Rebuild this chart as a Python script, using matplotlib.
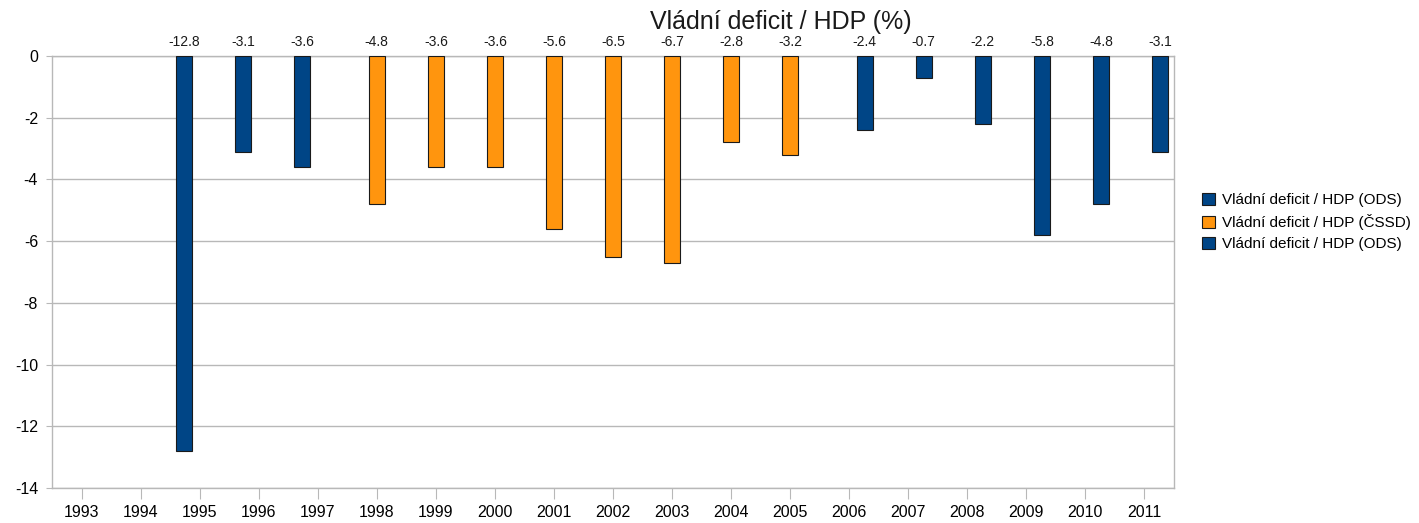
import numpy as np
import matplotlib
matplotlib.use('Agg')
import matplotlib.pyplot as plt

plt.rcParams['font.family'] = ['Liberation Sans', 'DejaVu Sans']
plt.rcParams['axes.unicode_minus'] = False

years = [str(y) for y in range(1993, 2012)]
# tři řady jako v původním grafu (NaN = bez hodnoty)
ods1 = [np.nan, np.nan, -12.8, -3.1, -3.6] + [np.nan] * 14
cssd = [np.nan] * 5 + [-4.8, -3.6, -3.6, -5.6, -6.5, -6.7, -2.8, -3.2] + [np.nan] * 6
ods2 = [np.nan] * 13 + [-2.4, -0.7, -2.2, -5.8, -4.8, -3.1]
series_names = ['Vládní deficit / HDP (ODS)', 'Vládní deficit / HDP (ČSSD)',
                'Vládní deficit / HDP (ODS)']

blue = '#004586'
orange = '#ff950e'
grid_col = '#b8b8b8'

fig = plt.figure(figsize=(14.19, 5.23), dpi=100)
ax = fig.add_axes([52 / 1419, 1 - 488 / 523, (1174 - 52) / 1419, (488 - 56) / 523])

x = np.arange(len(years))
w = 0.263
for vals, off, col, name in zip([ods1, cssd, ods2], [-w, 0, w],
                                [blue, orange, blue], series_names):
    ax.bar(x + off, vals, width=w, color=col, edgecolor='#1a1a1a',
           linewidth=0.8, label=name, zorder=3)
    # popisky hodnot nad grafem
    for xi, v in zip(x + off, vals):
        if not np.isnan(v):
            ax.annotate(f'{v:.1f}', xy=(xi, 0), xytext=(0, 7),
                        textcoords='offset pixels', ha='center', va='bottom',
                        fontsize=10, color='#1a1a1a', annotation_clip=False)

ax.set_xlim(-0.5, len(years) - 0.5)
ax.set_ylim(-14, 0)
ax.set_yticks(np.arange(-14, 1, 2))
ax.set_xticks(x)
ax.set_xticklabels(years)
ax.yaxis.grid(True, color=grid_col, linewidth=1)
ax.set_axisbelow(True)
for s in ax.spines.values():
    s.set_color(grid_col)
    s.set_linewidth(1)
ax.tick_params(axis='x', length=8, color=grid_col, labelsize=11.5, pad=4)
ax.tick_params(axis='y', length=4, color=grid_col, labelsize=11.5, pad=6)

fig.text(781 / 1419, 1 - 22 / 523, 'Vládní deficit / HDP (%)', ha='center',
         va='center', fontsize=18, color='#1a1a1a')

handles = [plt.Rectangle((0, 0), 1, 1, facecolor=c, edgecolor='#1a1a1a', linewidth=0.8)
           for c in [blue, orange, blue]]
fig.legend(handles, series_names, loc='center left',
           bbox_to_anchor=(1188 / 1419, 1 - 222 / 523), frameon=False,
           fontsize=11, handlelength=0.85, handleheight=0.85, handletextpad=0.45,
           labelspacing=0.45)

fig.savefig('out.png', dpi=100)
